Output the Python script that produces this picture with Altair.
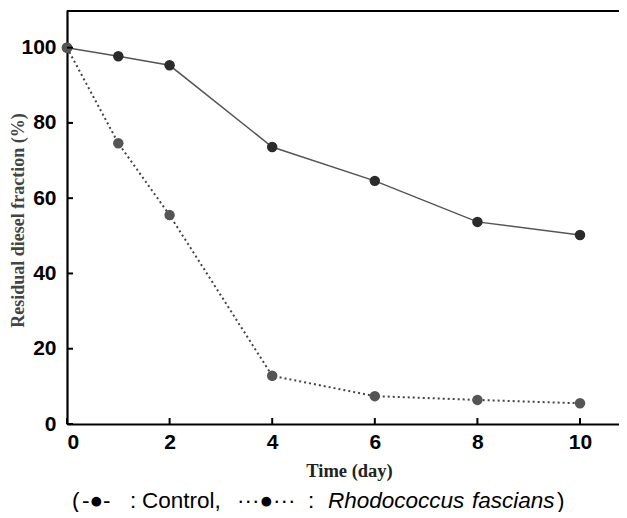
import altair as alt
import pandas as pd

days = [0, 1, 2, 4, 6, 8, 10]
control = [100, 97.7, 95.3, 73.6, 64.6, 53.7, 50.2]
rhodococcus = [100, 74.6, 55.5, 12.8, 7.4, 6.4, 5.5]
x_ticks = [0, 2, 4, 6, 8, 10]
y_ticks = [0, 20, 40, 60, 80, 100]

caption_parts = ["(", "-●-", ":", "Control,", "···●···", ":", "Rhodococcus", "fascians", ")"]
caption_italic = [False, False, False, False, False, False, True, True, False]
caption_x = [5, 15, 63, 75, 170, 241, 261, 405, 490]

W, H = 552, 414

df_c = pd.DataFrame({"day": days, "value": control})
df_r = pd.DataFrame({"day": days, "value": rhodococcus})
df_xt = pd.DataFrame({"t": x_ticks})
df_yt = pd.DataFrame({"t": y_ticks})
df_cap = pd.DataFrame({"txt": caption_parts, "italic": caption_italic, "px": caption_x})

xscale = alt.Scale(domain=[0, 10.76], nice=False, zero=False)
yscale = alt.Scale(domain=[0, 110], nice=False)

label_font = "Liberation Sans"

xaxis = alt.Axis(values=x_ticks, title="Time (day)", tickSize=0, grid=False,
                 domainColor="black", domainWidth=2.2,
                 labelFont=label_font, labelFontSize=21, labelFontWeight="bold",
                 labelColor="black", labelPadding=7,
                 titleFont="Liberation Serif", titleFontSize=18.5, titleFontWeight="bold",
                 titleColor="#222", titleX=282, titleY=37, titleBaseline="top")
yaxis = alt.Axis(values=y_ticks, title="Residual diesel fraction (%)", tickSize=0, grid=False,
                 domainColor="black", domainWidth=2.2,
                 labelFont=label_font, labelFontSize=21, labelFontWeight="bold",
                 labelColor="black", labelPadding=11,
                 titleFont="Liberation Serif", titleFontSize=18, titleFontWeight="bold",
                 titleColor="#444", titleX=-49, titleY=210, titleBaseline="middle")

base_x = alt.X("day:Q", scale=xscale, axis=xaxis)
base_y = alt.Y("value:Q", scale=yscale, axis=yaxis)
px = alt.X("day:Q", scale=xscale)
py = alt.Y("value:Q", scale=yscale)

line_c = alt.Chart(df_c).mark_line(color="#555", strokeWidth=1.5).encode(x=base_x, y=base_y)
pts_c = alt.Chart(df_c).mark_point(filled=True, color="#2b2b2b", size=110, opacity=1).encode(x=px, y=py)
line_r = alt.Chart(df_r).mark_line(color="#444", strokeWidth=2, strokeDash=[2, 3]).encode(x=px, y=py)
pts_r = alt.Chart(df_r).mark_point(filled=True, color="#555", size=110, opacity=1).encode(x=px, y=py)

# inward ticks
xt = alt.Chart(df_xt).mark_rule(color="black", strokeWidth=2).encode(
    x=alt.X("t:Q", scale=xscale), y=alt.value(H), y2=alt.value(H - 6))
yt = alt.Chart(df_yt).mark_rule(color="black", strokeWidth=2).encode(
    y=alt.Y("t:Q", scale=yscale), x=alt.value(0), x2=alt.value(6))
top = alt.Chart(df_xt).transform_filter("datum.t == 0").mark_rule(color="black", strokeWidth=2.2).encode(
    x=alt.value(0), x2=alt.value(W), y=alt.value(1))

cap_plain = alt.Chart(df_cap).transform_filter("!datum.italic").mark_text(
    align="left", baseline="middle", font="Liberation Sans", fontSize=22.5, color="black").encode(
    x=alt.X("px:Q", scale=None), y=alt.value(491), text="txt:N")
cap_it = alt.Chart(df_cap).transform_filter("datum.italic").mark_text(
    align="left", baseline="middle", font="Liberation Sans", fontSize=22.5, fontStyle="italic",
    color="black").encode(
    x=alt.X("px:Q", scale=None), y=alt.value(491), text="txt:N")

chart = alt.layer(line_c, line_r, pts_c, pts_r, xt, yt, top, cap_plain, cap_it).properties(
    width=W, height=H,
    autosize=alt.AutoSizeParams(type="none"),
    padding={"left": 59, "top": 2, "right": 0, "bottom": 88},
).configure_view(stroke=None).configure(background="white")

chart.save("out.html", embed_options={"renderer": "svg", "actions": False})
